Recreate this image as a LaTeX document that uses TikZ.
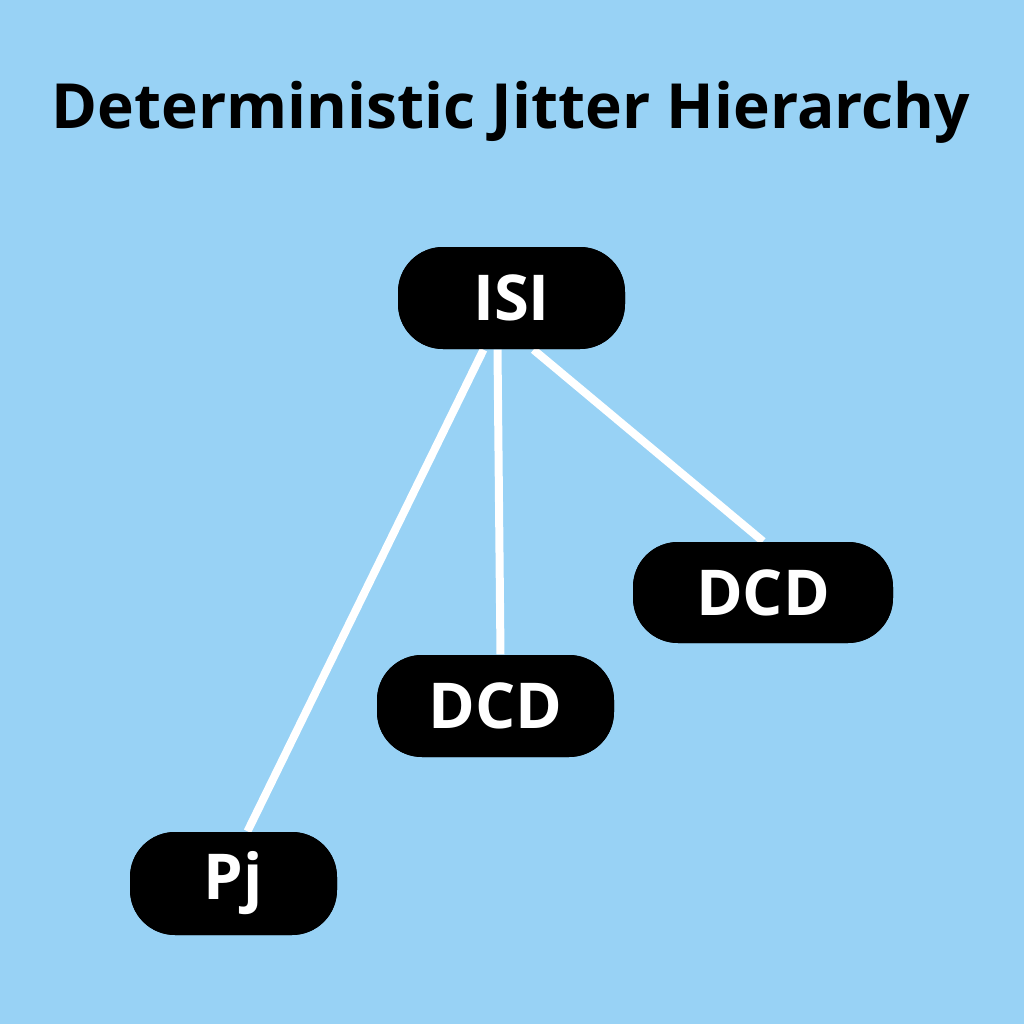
\documentclass[tikz,border=0pt]{standalone}
\usepackage{fontspec}
\setmainfont{Open Sans}
\usetikzlibrary{calc}
\begin{document}
\begin{tikzpicture}[
  box/.style={fill=black, text=white, rounded corners=0.45cm, font=\bfseries\fontsize{18}{20}\selectfont, inner sep=0pt},
  link/.style={draw=white, line width=0.08cm}]
\fill[fill={rgb,255:red,152;green,210;blue,245}] (0,0) rectangle (10.24,-10.24);
\useasboundingbox (0,0) rectangle (10.24,-10.24);
\node (title) at (5.11,-1.12) {\resizebox{9.18cm}{!}{\bfseries Deterministic Jitter Hierarchy}};
\node[box, minimum width=2.27cm, minimum height=1.02cm] (isi) at (5.115,-2.98) {ISI};
\node[box, minimum width=2.60cm, minimum height=1.01cm] (dcd1) at (7.63,-5.925) {DCD};
\node[box, minimum width=2.37cm, minimum height=1.02cm] (dcd2) at (4.955,-7.06) {DCD};
\node[box, minimum width=2.07cm, minimum height=1.03cm] (pj) at (2.335,-8.835) {Pj};
\begin{scope}[on background layer/.style={}]
\end{scope}
\draw[link] ($(isi.south)+(-0.28,0)$) -- ($(pj.north)+(0.14,0)$);
\draw[link] ($(isi.south)+(-0.14,0)$) -- ($(dcd2.north)+(0.05,0)$);
\draw[link] ($(isi.south)+(0.22,0)$) -- ($(dcd1.north)+(0.0,0)$);
\node[box, minimum width=2.27cm, minimum height=1.02cm] at (isi) {ISI};
\node[box, minimum width=2.60cm, minimum height=1.01cm] at (dcd1) {DCD};
\node[box, minimum width=2.37cm, minimum height=1.02cm] at (dcd2) {DCD};
\node[box, minimum width=2.07cm, minimum height=1.03cm] at (pj) {Pj};
\end{tikzpicture}
\end{document}
